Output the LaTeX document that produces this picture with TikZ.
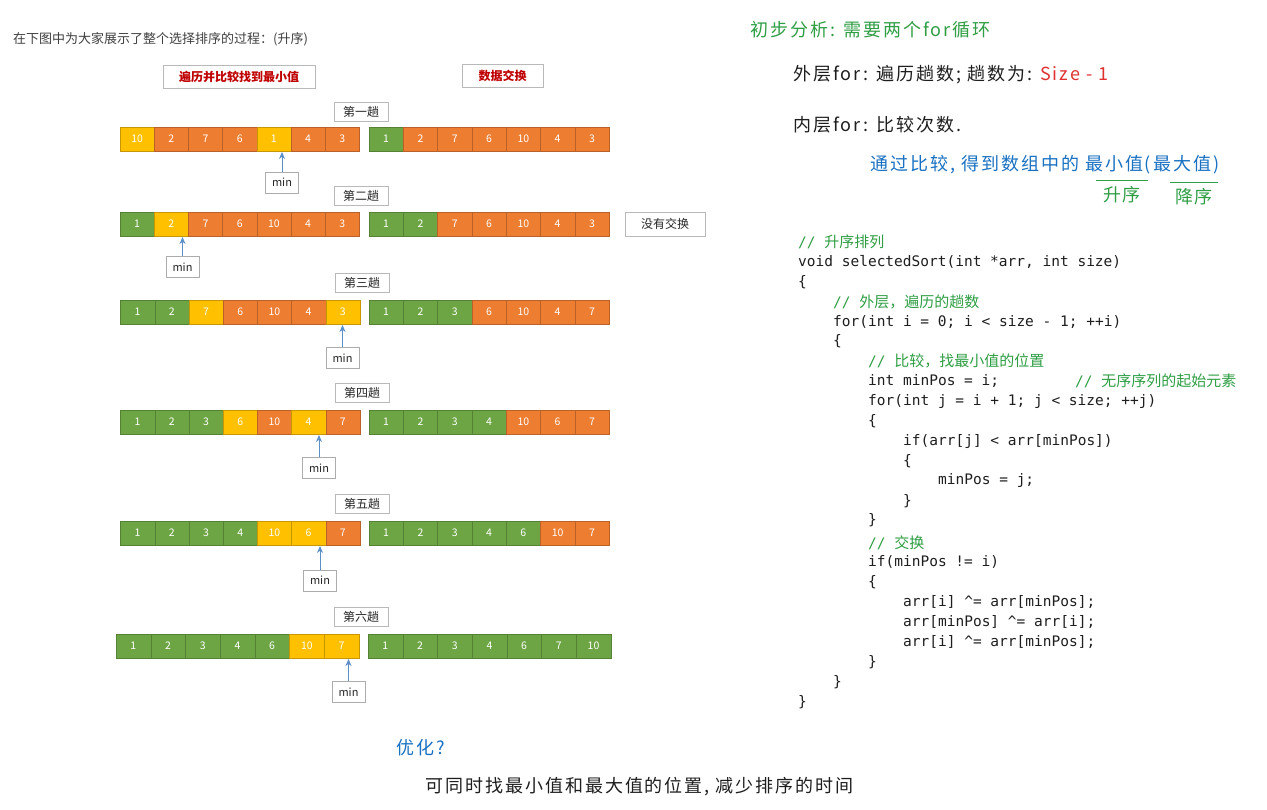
\documentclass[tikz,border=0pt]{standalone}
\usepackage{fontspec}
\setmainfont{Noto Sans CJK SC}
\newfontfamily\cjk{Noto Sans CJK SC}
\newfontfamily\hand[LetterSpace=11]{Noto Sans CJK SC}
\newfontfamily\codefont{DejaVu Sans Mono}
\usetikzlibrary{arrows.meta}
\definecolor{cO}{HTML}{ED7D31}
\definecolor{cY}{HTML}{FFC000}
\definecolor{cG}{HTML}{6DA544}
\definecolor{arrowblue}{HTML}{5B8FC7}
\definecolor{exgreen}{HTML}{2F9E44}
\definecolor{exred}{HTML}{E03131}
\definecolor{exblue}{HTML}{1971C2}
\definecolor{exblack}{HTML}{1E1E1E}
\definecolor{hdred}{HTML}{C00000}
\newcommand\cellrow[5]{%
  \foreach \val/\col [count=\i] in {#5} {%
    \node[cell, minimum width=#4pt, fill=\col, draw=\col!78!black] (#1\i) at ({#2+(\i-0.5)*#4}, {#3+12}) {\val};
  }}
\newcommand\cm[1]{{\cjk\fontsize{15}{18}\selectfont #1}}
\tikzset{
  cell/.style={minimum height=24pt, inner sep=0, outer sep=0, text=white, line width=0.4pt, font=\fontsize{10.5}{12}\selectfont},
  lbl/.style={draw=gray!55, fill=white, minimum width=54pt, minimum height=19pt, inner sep=0, font=\fontsize{12}{14}\selectfont, text=black!85},
  minbox/.style={draw=gray!65, fill=white, minimum width=33pt, minimum height=21pt, inner sep=0, font=\fontsize{11}{13}\selectfont, text=black!85},
  hdbox/.style={draw=gray!55, fill=white, minimum height=23pt, inner sep=0, font=\bfseries\fontsize{12}{14}\selectfont, text=hdred},
  arr/.style={-{Stealth[length=7pt,width=6pt]}, draw=arrowblue, line width=0.9pt, shorten >=1pt},
  note/.style={anchor=west, inner sep=0, font=\hand\fontsize{18}{21}\selectfont},
  code/.style={anchor=west, inner sep=0, text=exblack, font=\codefont\fontsize{14.5}{17}\selectfont},
  ccom/.style={anchor=west, inner sep=0, text=exgreen, font=\codefont\fontsize{14.5}{17}\selectfont},
}
\begin{document}
\begin{tikzpicture}[x=1pt, y=-1pt]
\useasboundingbox[fill=white] (0,0) rectangle (1267,809);

% intro text
\node[anchor=west, inner sep=0, text=black!75, font=\fontsize{13}{15}\selectfont] (intro) at (13,39) {在下图中为大家展示了整个选择排序的过程：(升序)};

% headers
\node[hdbox, minimum width=152pt] (h1) at (239,76.5) {遍历并比较找到最小值};
\node[hdbox, minimum width=81pt] (h2) at (502.5,75.5) {数据交换};

% row labels
\node[lbl] (t1) at (361,112) {第一趟};
\node[lbl] (t2) at (361,196) {第二趟};
\node[lbl] (t3) at (362,282.5) {第三趟};
\node[lbl] (t4) at (362,393) {第四趟};
\node[lbl] (t5) at (362,504) {第五趟};
\node[lbl] (t6) at (361,617) {第六趟};

% rows
\cellrow{aL}{120}{127}{34.2}{10/cY,2/cO,7/cO,6/cO,1/cY,4/cO,3/cO}
\cellrow{aR}{369}{127}{34.3}{1/cG,2/cO,7/cO,6/cO,10/cO,4/cO,3/cO}
\cellrow{bL}{120}{212}{34.2}{1/cG,2/cY,7/cO,6/cO,10/cO,4/cO,3/cO}
\cellrow{bR}{369}{212}{34.3}{1/cG,2/cG,7/cO,6/cO,10/cO,4/cO,3/cO}
\cellrow{cL}{120.5}{300}{34.2}{1/cG,2/cG,7/cY,6/cO,10/cO,4/cO,3/cY}
\cellrow{cR}{369}{300}{34.3}{1/cG,2/cG,3/cG,6/cO,10/cO,4/cO,7/cO}
\cellrow{dL}{120.5}{410}{34.2}{1/cG,2/cG,3/cG,6/cY,10/cO,4/cY,7/cO}
\cellrow{dR}{369}{410}{34.3}{1/cG,2/cG,3/cG,4/cG,10/cO,6/cO,7/cO}
\cellrow{eL}{120.5}{521}{34.2}{1/cG,2/cG,3/cG,4/cG,10/cY,6/cY,7/cO}
\cellrow{eR}{369}{521}{34.3}{1/cG,2/cG,3/cG,4/cG,6/cG,10/cO,7/cO}
\cellrow{fL}{116}{634}{34.7}{1/cG,2/cG,3/cG,4/cG,6/cG,10/cY,7/cY}
\cellrow{fR}{368}{634}{34.7}{1/cG,2/cG,3/cG,4/cG,6/cG,7/cG,10/cG}

\node[lbl, minimum width=80pt, minimum height=24pt] (nox) at (665,224) {没有交换};

% min boxes and arrows
\node[minbox] (m1) at (282,182.5) {min};
\node[minbox] (m2) at (182.5,267) {min};
\node[minbox] (m3) at (342.5,358) {min};
\node[minbox] (m4) at (319,468) {min};
\node[minbox] (m5) at (320,580.5) {min};
\node[minbox] (m6) at (348.5,692) {min};
\draw[arr] (m1.north) -- (m1.north |- aL1.south);
\draw[arr] (m2.north) -- (m2.north |- bL1.south);
\draw[arr] (m3.north) -- (m3.north |- cL1.south);
\draw[arr] (m4.north) -- (m4.north |- dL1.south);
\draw[arr] (m5.north) -- (m5.north |- eL1.south);
\draw[arr] (m6.north) -- (m6.north |- fL1.south);

% analysis notes
\node[note, text=exgreen] (n1) at (750,30) {初步分析: 需要两个for循环};
\node[note, text=exblack] (n2) at (793,75) {外层for: 遍历趟数; 趟数为: \textcolor{exred}{Size - 1}};
\node[note, text=exblack] (n3) at (793,125) {内层for: 比较次数.};
\node[note, text=exblue] (n4) at (870,165) {通过比较, 得到数组中的 最小值(最大值)};
\coordinate (u1a) at (1096,180.5);
\coordinate (u1b) at (1148,180.5);
\coordinate (u2a) at (1170,182.5);
\coordinate (u2b) at (1218,182.5);
\draw[exgreen, line width=1.6pt] (u1a) -- (u1b);
\draw[exgreen, line width=1.6pt] (u2a) -- (u2b);
\node[inner sep=0, text=exgreen, font=\hand\fontsize{18}{21}\selectfont] (asc) at (1122,195) {升序};
\node[inner sep=0, text=exgreen, font=\hand\fontsize{18}{21}\selectfont] (desc) at (1194,197) {降序};

% code
\node[ccom] (c0) at (798,242) {// \cm{升序排列}};
\node[code] (c1) at (798,261.9) {void selectedSort(int *arr, int size)};
\node[code] (c2) at (798,281.8) {\{};
\node[ccom] (c3) at (833,301.7) {// \cm{外层，遍历的趟数}};
\node[code] (c4) at (833,321.6) {for(int i = 0; i < size - 1; ++i)};
\node[code] (c5) at (833,341.5) {\{};
\node[ccom] (c6) at (868,361.4) {// \cm{比较，找最小值的位置}};
\node[code] (c7) at (868,381.3) {int minPos = i;};
\node[ccom] (c7b) at (1075,381.3) {// \cm{无序序列的起始元素}};
\node[code] (c8) at (868,401.2) {for(int j = i + 1; j < size; ++j)};
\node[code] (c9) at (868,421.1) {\{};
\node[code] (c10) at (903,441) {if(arr[j] < arr[minPos])};
\node[code] (c11) at (903,460.9) {\{};
\node[code] (c12) at (938,480.8) {minPos = j;};
\node[code] (c13) at (903,500.7) {\}};
\node[code] (c14) at (868,520.6) {\}};
\node[ccom] (c15) at (868,542.5) {// \cm{交换}};
\node[code] (c16) at (868,562.4) {if(minPos != i)};
\node[code] (c17) at (868,582.3) {\{};
\node[code] (c18) at (903,602.2) {arr[i] \textasciicircum= arr[minPos];};
\node[code] (c19) at (903,622.1) {arr[minPos] \textasciicircum= arr[i];};
\node[code] (c20) at (903,642) {arr[i] \textasciicircum= arr[minPos];};
\node[code] (c21) at (868,661.9) {\}};
\node[code] (c22) at (833,681.8) {\}};
\node[code] (c23) at (798,701.7) {\}};

% bottom
\node[note, text=exblue] (opt) at (396,748) {优化?};
\node[note, text=exblack] (optt) at (425,787) {可同时找最小值和最大值的位置, 减少排序的时间};
\end{tikzpicture}
\end{document}
